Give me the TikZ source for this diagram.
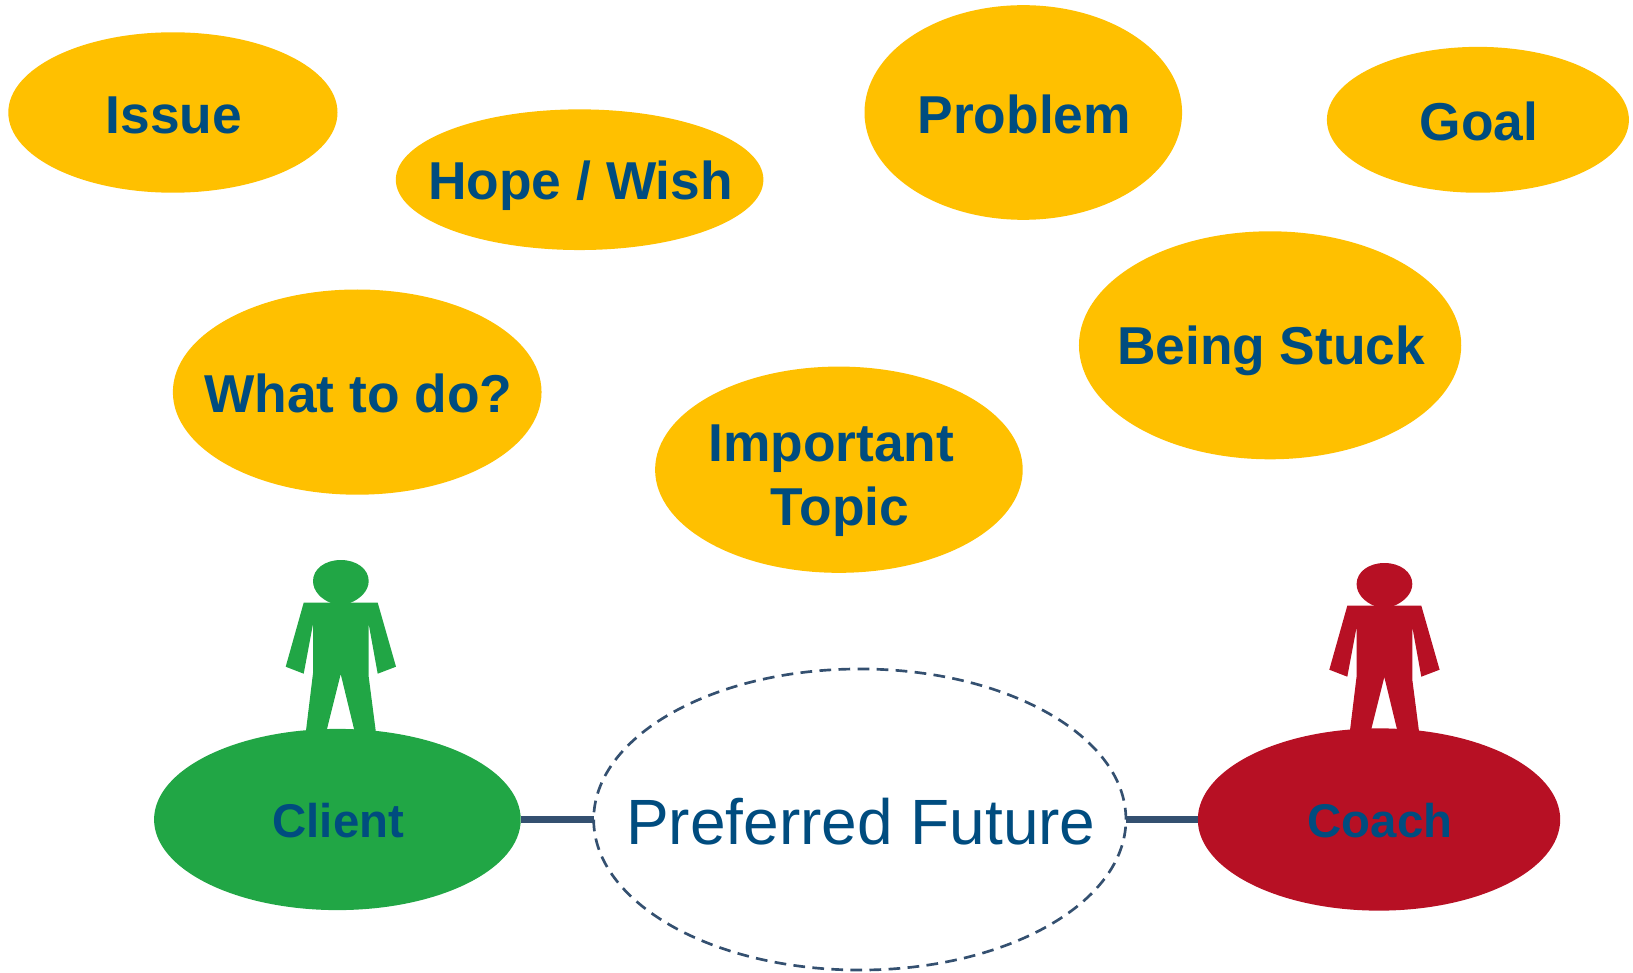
\documentclass[tikz,border=0pt]{standalone}
\usepackage{fontspec}
\setmainfont{Liberation Sans}
\usetikzlibrary{shapes.geometric}

\definecolor{topicfill}{RGB}{255,192,0}
\definecolor{clientgreen}{RGB}{33,166,69}
\definecolor{coachred}{RGB}{183,16,36}
\definecolor{labelblue}{RGB}{0,76,127}
\definecolor{linkblue}{RGB}{52,80,112}

\newcommand{\blobstrut}{\rule[-0.17em]{0pt}{1.12em}\kern1.5pt}
\newcommand{\drawperson}[3]{%
  \begin{scope}[shift={(#1,#2)}]
    \fill [#3] (313,581) .. controls (313,569) and (325,560) .. (340.8,560) .. controls (356.6,560) and (368.7,569) .. (368.7,581) .. controls (368.7,591) and (360,599) .. (350,603) -- (331,603) .. controls (321,599) and (313,591) .. (313,581) -- cycle;
    \fill [#3] (303.7,602.7) -- (377.7,602.7) -- (396,666.7) -- (377.7,673.7) -- (368.7,624) -- (368.7,676.7) -- (376,733) -- (355,733) -- (340.7,674) -- (326,733) -- (305.7,733) -- (313,673.3) -- (313,624) -- (303.7,673.7) -- (285.7,666.7) -- cycle;
  \end{scope}}

\tikzset{
  every picture/.style={line width=0.75pt},
  blob/.style={ellipse,inner sep=-40pt,outer sep=0pt,align=center,text=labelblue,font=\fontsize{40}{48}\selectfont\bfseries,execute at begin node=\blobstrut},
  topic/.style={blob,fill=topicfill},
  link/.style={draw=linkblue,line width=5.6pt}
}

\begin{document}
\begin{tikzpicture}[x=0.75pt,y=0.75pt,yscale=-1,xscale=1]
\useasboundingbox (0,0) rectangle (1633,973);

%Shape: Person
\drawperson{0}{0}{clientgreen}
\drawperson{1043.6}{3}{coachred}

%Shape: Ellipse
\node (issue) [topic,minimum width=246.9pt,minimum height=120.3pt] at (172.9,112.5) {Issue};
\node (hope) [topic,minimum width=275.7pt,minimum height=105.5pt] at (579.6,179.7) {Hope / Wish};
\node (problem) [topic,minimum width=238.2pt,minimum height=161pt] at (1023.3,112.5) {Problem};
\node (goal) [topic,minimum width=226.5pt,minimum height=109.4pt] at (1477.9,119.8) {Goal};
\node (stuck) [topic,minimum width=286.7pt,minimum height=171pt] at (1270.1,345.3) {Being Stuck};
\node (whatdo) [topic,minimum width=276.5pt,minimum height=153.9pt] at (357.2,392.1) {What to do?};
\node (important) [topic,minimum width=275.7pt,minimum height=154.7pt] at (838.9,469.7) {\rule{0pt}{1.11em}Important\rule{0.32em}{0pt}\\\blobstrut Topic\kern1.5pt};
\node (client) [blob,fill=clientgreen,font=\fontsize{35.5}{42}\selectfont\bfseries,minimum width=275pt,minimum height=135.9pt] at (337.4,819.5) {Client};
\node (coach) [blob,fill=coachred,font=\fontsize{35.5}{42}\selectfont\bfseries,minimum width=271.8pt,minimum height=136.7pt] at (1379,819.5) {Coach};
\node (future) [blob,draw=linkblue,line width=2pt,dash pattern={on 8.8pt off 5.5pt},font=\fontsize{48}{56}\selectfont,minimum width=399.2pt,minimum height=225.8pt] at (859.8,819.5) {Preferred Future};

%Straight Lines
\draw [link] (client.east) -- (future.west);
\draw [link] (future.east) -- (coach.west);

\end{tikzpicture}
\end{document}
